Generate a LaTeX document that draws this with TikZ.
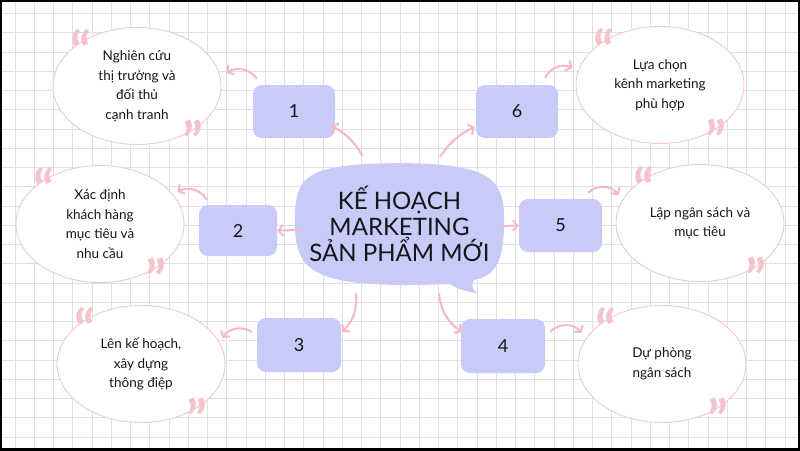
\documentclass[tikz,border=0pt]{standalone}
\usepackage{fontspec}
\setmainfont{Lato}
\usetikzlibrary{arrows.meta,shapes.geometric}
\definecolor{gridc}{HTML}{DEDFEA}
\definecolor{lav}{HTML}{C8CBF7}
\definecolor{pinkl}{HTML}{F2C6CE}
\definecolor{pinka}{HTML}{F5B8C5}
\definecolor{pinkq}{HTML}{F4C3CB}
\definecolor{inkc}{HTML}{15151C}
\begin{document}
\begin{tikzpicture}[x=1pt,y=1pt,
  numbox/.style={fill=lav, rounded corners=9pt, inner sep=0pt, text=inkc, font=\fontsize{18}{20}\selectfont},
  idea/.style={ellipse, draw=pinkl, line width=0.9pt, fill=white, inner sep=0pt, align=center, text=inkc,
    minimum width=168, minimum height=117, font=\fontsize{13.5}{19.5}\selectfont},
  conn/.style={draw=pinka, line width=2pt, -{Straight Barb[length=4.5pt,width=11pt]}},
  quo/.style={text=pinkq, inner sep=0pt, anchor=north, font=\fontsize{54}{54}\selectfont\bfseries,
    text height=12pt, text depth=0pt},
  gridline/.style={draw=gridc, line width=1pt}
]
\useasboundingbox (0,0) rectangle (800,-450);
\fill[white] (0,0) rectangle (800,-450);
\foreach \i in {0,...,40} \draw[gridline] ({15+19.25*\i},0) -- ({15+19.25*\i},-450);
\foreach \j in {0,...,22} \draw[gridline] (0,{-13.5-19.25*\j}) -- (800,{-13.5-19.25*\j});

% idea ellipses
\node[idea] (e1) at (137,-86) {Nghiên cứu\\thị trường và\\đối thủ\\cạnh tranh};
\node[idea] (e6) at (660,-85) {Lựa chọn\\kênh marketing\\phù hợp};
\node[idea] (e2) at (100,-224) {Xác định\\khách hàng\\mục tiêu và\\nhu cầu};
\node[idea] (e5) at (700,-223) {Lập ngân sách và\\mục tiêu};
\node[idea] (e3) at (141,-364) {Lên kế hoạch,\\xây dựng\\thông điệp};
\node[idea] (e4) at (662,-364) {Dự phòng\\ngân sách};

% quotation marks (glyph lowered so that its box hugs the ink)
\foreach \e in {e1,e6,e2,e5,e3,e4}{
  \node[quo] (\e qo) at ([shift={(-56,51)}]\e.center) {\raisebox{-24pt}{“}};
  \node[quo] (\e qc) at ([shift={(56,-39)}]\e.center) {\raisebox{-24pt}{”}};
}

% number boxes
\node[numbox, minimum width=82, minimum height=53] (b1) at (294,-111.5) {1};
\node[numbox, minimum width=82, minimum height=53] (b6) at (517,-111.5) {6};
\node[numbox, minimum width=78, minimum height=51] (b2) at (238,-230.5) {2};
\node[numbox, minimum width=83, minimum height=53] (b5) at (560.5,-225.5) {5};
\node[numbox, minimum width=84, minimum height=54] (b3) at (299,-345) {3};
\node[numbox, minimum width=84, minimum height=54] (b4) at (503,-346) {4};

% central speech bubble
\fill[lav] (295,-224) .. controls (294,-175) and (305,-164) .. (400,-163)
  .. controls (490,-164) and (505,-178) .. (504,-222)
  .. controls (504,-262) and (495,-276) .. (474,-280)
  .. controls (471,-285) and (472,-289) .. (477,-293)
  .. controls (466,-292) and (456,-288) .. (450,-284)
  .. controls (430,-285) and (415,-285) .. (400,-285)
  .. controls (312,-284) and (295,-268) .. (295,-224) -- cycle;
\node[minimum width=209, minimum height=122, inner sep=0pt, align=center, text=inkc,
  font=\fontsize{24}{26}\selectfont] (c) at (399.5,-224) {KẾ HOẠCH\\MARKETING\\SẢN PHẨM MỚI};

% connectors
\draw[conn] ([shift={(-37,7)}]c.north) to[bend right=15] ([shift={(-4,-14)}]b1.east);
\draw[conn] ([shift={(40.5,6)}]c.north) to[bend left=15] ([shift={(-1,-15.5)}]b6.west);
\draw[conn] ([shift={(5,-6)}]c.west) -- (b2.east);
\draw[conn] ([shift={(-4,-2)}]c.east) -- (b5.west);
\draw[conn] ([shift={(-43.5,-8)}]c.south) to[bend left=25] ([shift={(1,-14)}]b3.north east);
\draw[conn] ([shift={(39.5,-8)}]c.south) to[bend right=25] ([shift={(1,-13)}]b4.north west);

\draw[conn] ([shift={(4,6)}]b1.north west) to[bend right=45] ([shift={(5,13)}]e1.east);
\draw[conn] ([shift={(-13,7)}]b6.north east) to[bend left=45] ([shift={(-3,17)}]e6.west);
\draw[conn] ([shift={(8,5)}]b2.north west) to[bend right=45] ([shift={(-7,32)}]e2.east);
\draw[conn] ([shift={(-14,6)}]b5.north east) to[bend left=50] ([shift={(3,28)}]e5.west);
\draw[conn] ([shift={(-5,-14)}]b3.north west) to[bend right=45] ([shift={(-3,26)}]e3.east);
\draw[conn] ([shift={(5,-13)}]b4.north east) to[bend left=50] ([shift={(4,31)}]e4.west);

\draw[black, line width=3.5pt] (0,0) rectangle (800,-450);
\end{tikzpicture}
\end{document}
